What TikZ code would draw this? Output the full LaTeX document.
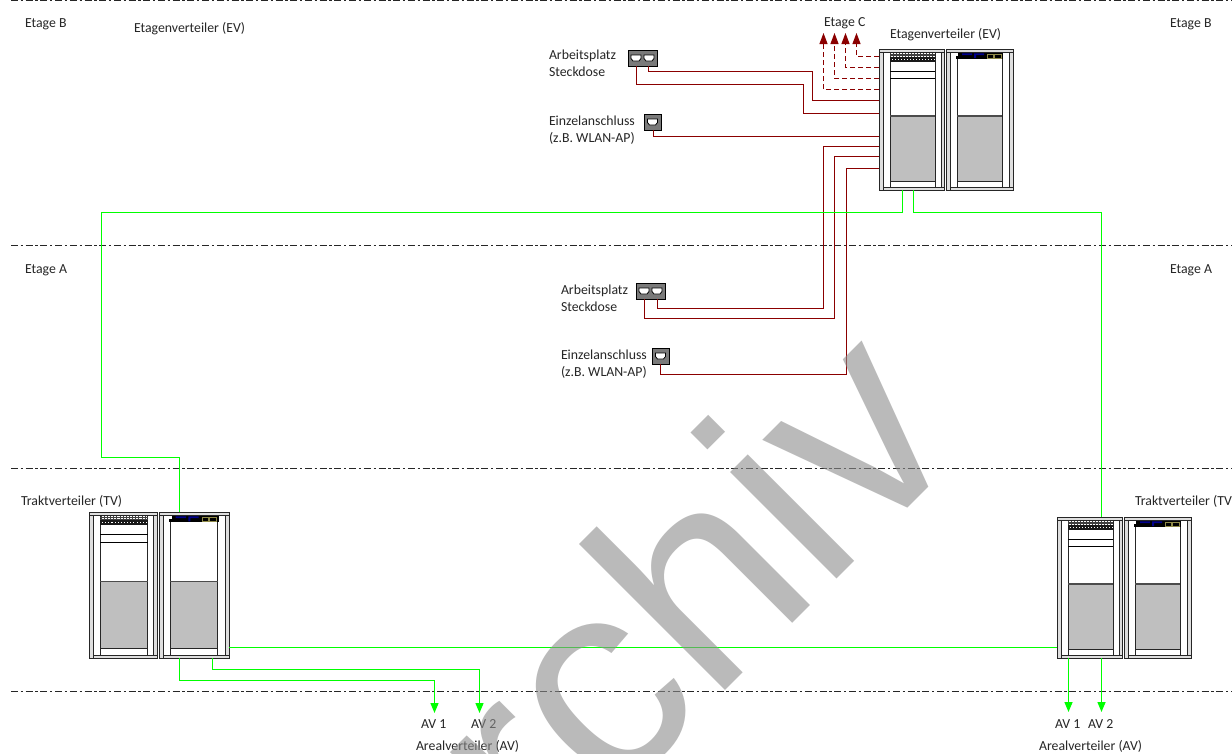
\documentclass[tikz,border=0pt]{standalone}
\usepackage{fontspec}
\setmainfont{Carlito}
\newfontfamily\wmfont{Liberation Sans}
\usetikzlibrary{arrows.meta,calc}
\definecolor{cableRed}{HTML}{8B0000}
\definecolor{linkGreen}{HTML}{00FF00}
\definecolor{postGray}{HTML}{DEDEDE}
\definecolor{fillGray}{HTML}{BFBFBF}
\definecolor{socketGray}{HTML}{7A7A7A}
\tikzset{
  lbl/.style={anchor=base west,inner sep=0pt,outer sep=0pt,font=\fontsize{13.8}{17}\selectfont,align=left,text=black!85},
  floorline/.style={line width=0.8pt,draw=black!85,dash pattern=on 7pt off 2.7pt on 2.3pt off 2.7pt},
  cable/.style={draw=cableRed,line width=1.1pt},
  drop/.style={cable,dash pattern=on 5pt off 3pt,-{Triangle[length=11pt,width=8pt,fill=cableRed]}},
  fibre/.style={draw=linkGreen,line width=1.4pt},
  fibrearrow/.style={fibre,-{Triangle[length=10pt,width=8pt,fill=linkGreen]}},
  rackbase/.style={draw=black!85,line width=0.8pt},
  rackpost/.style={rackbase,fill=postGray},
  socketbox/.style={draw=black,line width=0.8pt,fill=socketGray,inner sep=0pt,outer sep=0pt,rectangle,anchor=north west},
  rackbox/.style={rectangle,inner sep=0pt,outer sep=0pt,anchor=north west}
}
% rack pair: name, x, y, w, h  (local drawing in a 134 x 141 grid)
\newcommand{\rackpair}[5]{%
  \node[rackbox,minimum width=#4pt,minimum height=#5pt] (#1) at (#2,#3) {};
  \begin{scope}[shift={(#2,#3)},xscale=#4/134,yscale=#5/141]
    \foreach \xa/\xb/\ea/\eb in {0/65.5/11/56,67.5/134/78/123}{
      \fill[white] (\xa,0) rectangle (\xb,141);
      \fill[fillGray] (\ea,67) rectangle (\eb,132);
      \draw[rackbase] (\ea,3) -- (\ea,138) (\eb,3) -- (\eb,138);
      \draw[line width=1.1pt,black!70] (\ea,67) -- (\eb,67);
      \draw[rackbase] (\ea,132) -- (\eb,132);
      \draw[rackpost] (\xa,0) rectangle (\xa+4,141);
      \draw[rackpost] (\xb-3.5,0) rectangle (\xb,141);
      \draw[rackpost] (\xa,0) rectangle (\xb,3);
      \draw[rackpost] (\xa+4,138) rectangle (\xb,141);
    }
    % patch panel
    \fill[black!90] (11,7.5) rectangle (56,13);
    \foreach \i in {0,...,14}{
      \draw[black!75,line width=0.5pt] (11.5+3*\i,4) -- (11.5+3*\i,8);
      \fill[white] (12.5+3*\i,9.5) rectangle (13.5+3*\i,10.8);
    }
    \draw[black!75,line width=0.5pt] (11,5.2) -- (56,5.2) (11,6.6) -- (56,6.6);
    \draw[black,line width=0.8pt] (11,22) -- (56,22) (11,29) -- (56,29);
    % active device
    \fill[black] (77,4) rectangle (124,10);
    \fill[white] (76,4) rectangle (79,7);
    \fill[blue!55!black] (83,4.3) rectangle (93,6) (95,4.3) rectangle (105,6) (95,6) rectangle (97,9);
    \draw[yellow!50!black,line width=0.6pt] (108,5.5) rectangle (114,9) (115,5.5) rectangle (122,9);
  \end{scope}
}
% socket: name, x, y, w, h
\newcommand{\socketbody}[5]{\node[socketbox,minimum width=#4pt,minimum height=#5pt] (#1) at (#2,#3) {};}
\newcommand{\portglyph}[2]{%
  \draw[black,line width=0.8pt,fill=white] (#1-5,#2-3) -- (#1+5,#2-3) -- (#1+5,#2+0.5) -- (#1+3,#2+3) -- (#1-3,#2+3) -- (#1-5,#2+0.5) -- cycle;
}
\begin{document}
\begin{tikzpicture}[x=1pt,y=-1pt]
\clip (0,0) rectangle (1232,753);
\fill[white] (0,0) rectangle (1232,753);

% floor lines
\coordinate (fa0) at (11,0.5);  \coordinate (fa1) at (1232,0.5);
\coordinate (fb0) at (11,245.5);  \coordinate (fb1) at (1232,245.5);
\coordinate (fc0) at (11,468.5);  \coordinate (fc1) at (1232,468.5);
\coordinate (fd0) at (11,691.5);  \coordinate (fd1) at (1232,691.5);
\draw[floorline] (fa0) -- (fa1);
\draw[floorline] (fb0) -- (fb1);
\draw[floorline] (fc0) -- (fc1);
\draw[floorline] (fd0) -- (fd1);

% racks
\rackpair{ev}{879}{49}{134}{141}
\rackpair{tvl}{89}{512}{140}{146}
\rackpair{tvr}{1057}{517}{134}{141}

% sockets
\socketbody{sa}{628}{50}{29.5}{16}
\portglyph{636}{58}\portglyph{649}{58}
\socketbody{sb}{644}{114}{17}{16}
\portglyph{652.5}{122}
\socketbody{sc}{636}{283}{29}{16}
\portglyph{644}{291}\portglyph{657}{291}
\socketbody{sd}{652}{348}{17}{16}
\portglyph{660.5}{356}

\coordinate (sa1) at (636.5,66);
\coordinate (sa2) at (648.5,66);
\coordinate (sb1) at (653.5,130);
\coordinate (sc1) at (644.5,299);
\coordinate (sc2) at (657.5,299);
\coordinate (sd1) at (660.5,364);

% labels
\node[lbl] (t1) at (25,27) {Etage B};
\node[lbl] (t2) at (134,32) {Etagenverteiler (EV)};
\node[lbl] (t3) at (824,26) {Etage C};
\node[lbl] (t4) at (890,38) {Etagenverteiler (EV)};
\node[lbl] (t5) at (1170,27) {Etage B};
\node[lbl] (t6) at (549,76) {Arbeitsplatz\\Steckdose};
\node[lbl] (t7) at (549,142) {Einzelanschluss\\(z.B. WLAN-AP)};
\node[lbl] (t8) at (25,273) {Etage A};
\node[lbl] (t9) at (1170,273) {Etage A};
\node[lbl] (t10) at (561,311) {Arbeitsplatz\\Steckdose};
\node[lbl] (t11) at (561,376) {Einzelanschluss\\(z.B. WLAN-AP)};
\node[lbl] (t12) at (21,505) {Traktverteiler (TV)};
\node[lbl] (t13) at (1135,505) {Traktverteiler (TV)};
\node[lbl] (t14) at (421,728) {AV 1};
\node[lbl] (t15) at (471,728) {AV 2};
\node[lbl] (t16) at (416,750) {Arealverteiler (AV)};
\node[lbl] (t17) at (1055,728) {AV 1};
\node[lbl] (t18) at (1088,728) {AV 2};
\node[lbl] (t19) at (1039,750) {Arealverteiler (AV)};

% upper floor cables
\draw[cable] (sa1) |- (803.5,84.5) |- (ev.west |- 0,113.5);
\draw[cable] (sa2) |- (812.5,71.5) |- (ev.west |- 0,100.5);
\draw[cable] (sb1) |- (ev.west |- 0,136.5);
% cables to floor A
\draw[cable] (sc2) |- (823.5,308.5) |- (ev.west |- 0,146.5);
\draw[cable] (sc1) |- (834.5,318.5) |- (ev.west |- 0,156.5);
\draw[cable] (sd1) |- (846.5,374.5) |- (ev.west |- 0,168.5);
% drops to floor C
\coordinate (ca) at (823.5,33); \coordinate (cb) at (834.5,33); \coordinate (cc) at (845.5,33); \coordinate (cd) at (856.5,33);
\draw[drop] (ev.west |- 0,89.5) -| (ca);
\draw[drop] (ev.west |- 0,78.5) -| (cb);
\draw[drop] (ev.west |- 0,67.5) -| (cc);
\draw[drop] (ev.west |- 0,56.5) -| (cd);

% green links
\draw[fibre] (ev.south -| 902.5,0) |- (101.5,212.5) |- (179.5,457.5) -- (tvl.north -| 179.5,0);
\draw[fibre] (ev.south -| 913.5,0) |- (1101.5,212.5) -- (tvr.north -| 1101.5,0);
\draw[fibre] (tvl.east |- 0,647.5) -- (tvr.west |- 0,647.5);
\coordinate (av1) at (434.5,713); \coordinate (av2) at (479.5,713);
\coordinate (av3) at (1068.5,712); \coordinate (av4) at (1101.5,712);
\draw[fibrearrow] (tvl.south -| 179.5,0) |- (434.5,680.5) -- (av1);
\draw[fibrearrow] (tvl.south -| 212.5,0) |- (479.5,669.5) -- (av2);
\draw[fibrearrow] (tvr.south -| 1068.5,0) -- (av3);
\draw[fibrearrow] (tvr.south -| 1101.5,0) -- (av4);

% watermark
\node[rotate=45,anchor=base east,inner sep=0pt,outer sep=0pt,text=black!45,text opacity=0.6,font=\wmfont\fontsize{285}{285}\selectfont] (wm) at (969,447) {Archiv};
\end{tikzpicture}
\end{document}
